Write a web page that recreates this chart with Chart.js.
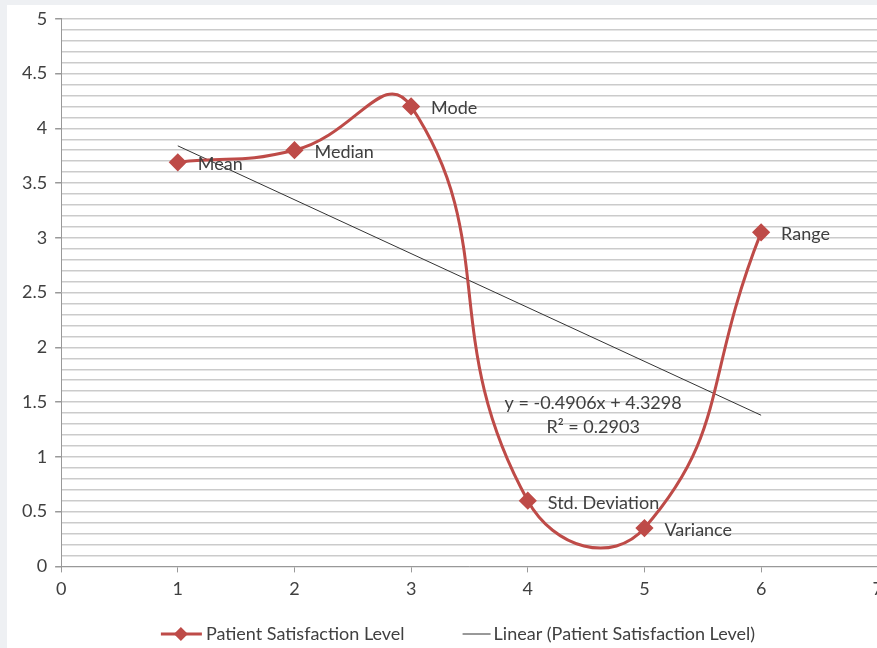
<!DOCTYPE html>
<html>
<head>
<meta charset="utf-8">
<script src="https://cdn.jsdelivr.net/npm/chart.js@4/dist/chart.umd.min.js"></script>
<style>
  html, body { margin: 0; padding: 0; background: #eef0f3; overflow: hidden; }
  #wrap { position: absolute; left: 7px; top: 0; width: 882px; height: 648px; background: #fff; }
  #topband { position: absolute; left: 0; top: 0; width: 100%; height: 5px; background: #eef0f3; }
</style>
</head>
<body>
<div id="wrap"><canvas id="line-chart"></canvas></div>
<div id="topband"></div>
<script>
// data
var xValues = [1, 2, 3, 4, 5, 6];
var values = [3.69, 3.8, 4.2, 0.6, 0.35, 3.05];
var pointNames = ['Mean', 'Median', 'Mode', 'Std. Deviation', 'Variance', 'Range'];
var trendX = [1, 6];
var trendY = [3.84, 1.38];
var seriesLabel = 'Patient Satisfaction Level';
var trendLabel = 'Linear (Patient Satisfaction Level)';
var equationLines = ['y = -0.4906x + 4.3298', 'R\u00b2 = 0.2903'];

var red = '#be4b48';
var trendColor = '#333';
var textColor = '#404040';
var font = 'Lato, "Open Sans", sans-serif';
var fontSize = 18;

var pointLabels = {
    id: 'pointLabels',
    afterDatasetsDraw: function(chart) {
        var ctx = chart.ctx;
        var meta = chart.getDatasetMeta(0);
        ctx.save();
        ctx.font = fontSize + 'px ' + font;
        ctx.fillStyle = textColor;
        ctx.textBaseline = 'middle';
        ctx.textAlign = 'left';
        meta.data.forEach(function(pt, i) {
            ctx.fillText(pointNames[i], pt.x + 20, pt.y + 2);
        });
        // trendline equation
        var xs = chart.scales.x, ys = chart.scales.y;
        ctx.textAlign = 'center';
        ctx.fillText(equationLines[0], xs.getPixelForValue(4.56), ys.getPixelForValue(1.49));
        ctx.fillText(equationLines[1], xs.getPixelForValue(4.56), ys.getPixelForValue(1.275));
        ctx.restore();
    }
};

// legend drawn by hand: red line with diamond, thin dark line
var bottomLegend = {
    id: 'bottomLegend',
    afterDraw: function(chart) {
        var ctx = chart.ctx;
        ctx.save();
        ctx.font = fontSize + 'px ' + font;
        ctx.textBaseline = 'middle';
        ctx.textAlign = 'left';
        var w1 = ctx.measureText(seriesLabel).width;
        var w2 = ctx.measureText(trendLabel).width;
        var gap = 58;
        var total = 41 + 4 + w1 + gap + 28 + 3 + w2;
        var x = chart.width / 2 + 10 - total / 2;
        var y = chart.height - 14;
        ctx.strokeStyle = red; ctx.lineWidth = 3;
        ctx.beginPath(); ctx.moveTo(x, y); ctx.lineTo(x + 41, y); ctx.stroke();
        ctx.fillStyle = red;
        ctx.beginPath(); ctx.moveTo(x + 20, y - 7); ctx.lineTo(x + 27, y); ctx.lineTo(x + 20, y + 7); ctx.lineTo(x + 13, y); ctx.closePath(); ctx.fill();
        x += 45;
        ctx.fillStyle = textColor;
        ctx.fillText(seriesLabel, x, y);
        x += w1 + gap;
        ctx.strokeStyle = trendColor; ctx.lineWidth = 1;
        ctx.beginPath(); ctx.moveTo(x, y); ctx.lineTo(x + 28, y); ctx.stroke();
        x += 31;
        ctx.fillText(trendLabel, x, y);
        ctx.restore();
    }
};

new Chart(document.getElementById('line-chart'), {
    type: 'line',
    data: {
        datasets: [{
            label: seriesLabel,
            data: xValues.map(function(x, i) { return {x: x, y: values[i]}; }),
            borderColor: red,
            backgroundColor: red,
            borderWidth: 3,
            pointStyle: 'rectRot',
            pointRadius: 7,
            pointHoverRadius: 7,
            tension: 0.5,
            fill: false
        }, {
            label: trendLabel,
            data: trendX.map(function(x, i) { return {x: x, y: trendY[i]}; }),
            borderColor: trendColor,
            borderWidth: 1,
            pointRadius: 0,
            fill: false
        }]
    },
    options: {
        responsive: true,
        maintainAspectRatio: false,
        animation: false,
        layout: { padding: { left: 7, top: 0, right: 0, bottom: 42 } },
        scales: {
            x: {
                type: 'linear',
                min: 0, max: 7,
                ticks: { stepSize: 1, color: textColor, font: { size: fontSize, family: font }, padding: 6 },
                grid: { display: true, drawOnChartArea: false, tickLength: 6, color: '#999' },
                border: { color: '#999' }
            },
            y: {
                min: 0, max: 5,
                ticks: {
                    stepSize: 0.1,
                    autoSkip: false,
                    color: textColor,
                    font: { size: fontSize, family: font },
                    padding: 8,
                    callback: function(v) {
                        var h = Math.round(v * 2);
                        return Math.abs(v * 2 - h) < 1e-6 ? String(h / 2) : '';
                    }
                },
                grid: {
                    color: '#cbcbcb',
                    lineWidth: 1.5,
                    tickLength: 6,
                    tickColor: function(c) {
                        var v = c.tick ? c.tick.value : 0;
                        return Math.abs(v * 2 - Math.round(v * 2)) < 1e-6 ? '#999' : 'rgba(0,0,0,0)';
                    }
                },
                border: { color: '#999' }
            }
        },
        plugins: {
            legend: { display: false },
            tooltip: { enabled: false }
        }
    },
    plugins: [pointLabels, bottomLegend]
});
</script>
</body>
</html>
